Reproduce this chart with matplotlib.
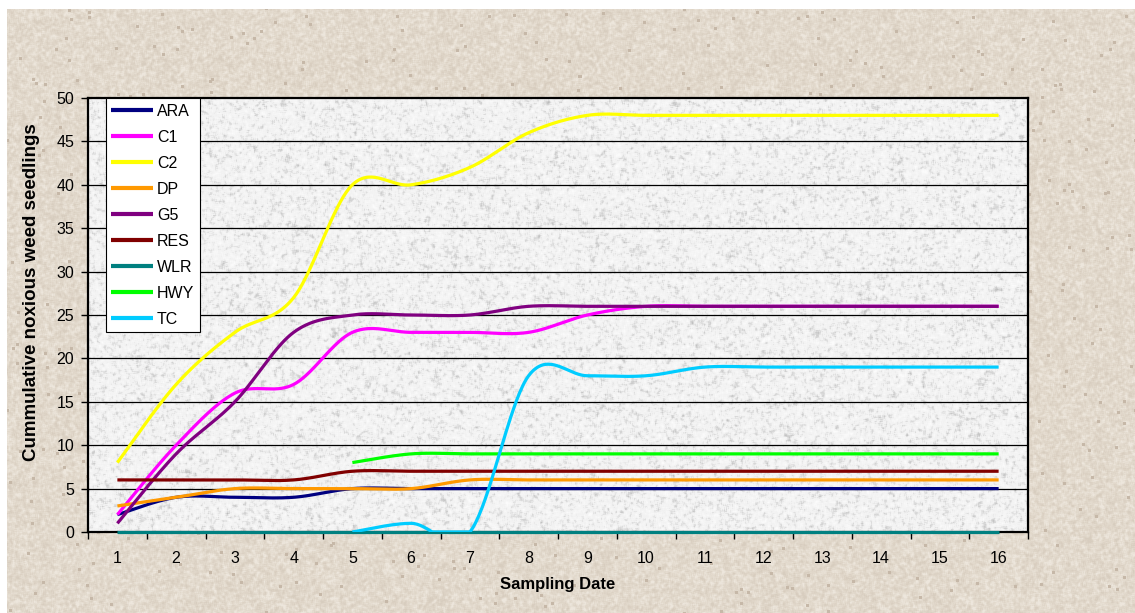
import numpy as np
import matplotlib
matplotlib.use("Agg")
import matplotlib.pyplot as plt

plt.rcParams['font.family'] = ['Liberation Sans', 'DejaVu Sans']

dates = list(range(1, 17))
nan = np.nan
ARA = [2, 4, 4, 4, 5, 5, 5, 5, 5, 5, 5, 5, 5, 5, 5, 5]
C1 = [2, 10, 16, 17, 23, 23, 23, 23, 25, 26, 26, 26, 26, 26, 26, 26]
C2 = [8, 17, 23, 27, 40, 40, 42, 46, 48, 48, 48, 48, 48, 48, 48, 48]
DP = [3, 4, 5, 5, 5, 5, 6, 6, 6, 6, 6, 6, 6, 6, 6, 6]
G5 = [1, 9, 15, 23, 25, 25, 25, 26, 26, 26, 26, 26, 26, 26, 26, 26]
RES = [6, 6, 6, 6, 7, 7, 7, 7, 7, 7, 7, 7, 7, 7, 7, 7]
WLR = [0] * 16
HWY = [nan, nan, nan, nan, 8, 9, 9, 9, 9, 9, 9, 9, 9, 9, 9, 9]
TC = [nan, nan, nan, nan, 0, 1, 0, 18, 18, 18, 19, 19, 19, 19, 19, 19]

series = [
    ("ARA", ARA, "#000080"),
    ("C1", C1, "#FF00FF"),
    ("C2", C2, "#FFFF00"),
    ("DP", DP, "#FF9900"),
    ("G5", G5, "#800080"),
    ("RES", RES, "#800000"),
    ("WLR", WLR, "#008080"),
    ("HWY", HWY, "#00FF00"),
    ("TC", TC, "#00CCFF"),
]


def smooth(xs, ys, n=40):
    """Catmull-Rom style Bezier smoothing through every point."""
    pts = [(x, y) for x, y in zip(xs, ys) if not np.isnan(y)]
    P = np.array(pts, dtype=float)
    out_x, out_y = [], []
    t = np.linspace(0, 1, n)
    for i in range(len(P) - 1):
        p0 = P[i - 1] if i > 0 else P[i]
        p1 = P[i]
        p2 = P[i + 1]
        p3 = P[i + 2] if i + 2 < len(P) else P[i + 1]
        c1 = p1 + (p2 - p0) / 6.0
        c2 = p2 - (p3 - p1) / 6.0
        b = ((1 - t) ** 3)[:, None] * p1 + (3 * (1 - t) ** 2 * t)[:, None] * c1 \
            + (3 * (1 - t) * t ** 2)[:, None] * c2 + (t ** 3)[:, None] * p2
        if i > 0:
            b = b[1:]
        out_x.extend(b[:, 0])
        out_y.extend(b[:, 1])
    return np.array(out_x), np.array(out_y)


def blur(a, r=1):
    acc = np.zeros_like(a)
    cnt = 0
    for dy in range(-r, r + 1):
        for dx in range(-r, r + 1):
            acc += np.roll(np.roll(a, dy, 0), dx, 1)
            cnt += 1
    return acc / cnt


def norm(a):
    return (a - a.mean()) / a.std()


rng = np.random.default_rng(7)

W, H = 1135, 613
fig = plt.figure(figsize=(W / 100, H / 100), dpi=100)
fig.patch.set_facecolor("white")

# Paper-like backdrop of the chart area
bw, bh = W - 7, H - 9
bg = fig.add_axes([7 / W, 0, bw / W, bh / H])
bg.set_axis_off()
v = norm(blur(rng.random((bh, bw)), 1)) * 0.8 + norm(blur(rng.random((bh, bw)), 2)) * 0.3
base = np.array([226, 217, 204]) / 255.0
light = np.array([240, 234, 225]) / 255.0
dark = np.array([198, 184, 168]) / 255.0
img = base[None, None, :] + np.clip(v, 0, 2)[..., None] * (light - base) * 0.4 \
    - np.clip(-v, 0, 2)[..., None] * (base - dark) * 0.18
spots = blur((rng.random((bh, bw)) > 0.999).astype(float), 1) > 0.05
img = np.where(spots[..., None], dark[None, None, :], img)
bg.imshow(np.clip(img, 0, 1), aspect="auto", interpolation="nearest")

ax = fig.add_axes([88 / W, 1 - 532 / H, 940 / W, 434 / H])

# Granite texture in the plot area
gv = norm(blur(rng.random((434, 940)), 1)) * 0.8 + norm(blur(rng.random((434, 940)), 2)) * 0.5
gray = 0.95 - np.clip(gv - 0.3, 0, None) * 0.06 + np.clip(-gv, 0, None) * 0.012
gray = np.clip(gray, 0.74, 0.985)
ax.imshow(np.dstack([gray, gray, gray]), extent=[0.5, 16.5, 0, 50],
          aspect="auto", interpolation="nearest", zorder=0)

for yv in range(5, 50, 5):
    ax.axhline(yv, color="black", lw=0.9, zorder=1)

for name, vals, col in series:
    sx, sy = smooth(dates, vals)
    ax.plot(sx, np.maximum(sy, 0), color=col, lw=2.3, label=name, zorder=3,
            solid_capstyle="butt", clip_on=(name != "WLR"))

ax.set_xlim(0.5, 16.5)
ax.set_ylim(0, 50)
ax.set_yticks(range(0, 51, 5))
ax.set_xticks(np.arange(0.5, 16.6, 1))
ax.set_xticklabels([])
ax.set_xticks(dates, minor=True)
ax.set_xticklabels([str(d) for d in dates], minor=True)
ax.tick_params(axis="x", which="major", direction="out", length=5, width=1, color="black")
ax.tick_params(axis="x", which="minor", length=0, pad=14, labelsize=11.5)
ax.tick_params(axis="y", direction="out", length=5, width=1, pad=5, labelsize=11.5)
for s in ax.spines.values():
    s.set_linewidth(1.6)
    s.set_color("black")

ax.set_xlabel("Sampling Date", fontsize=12, fontweight="bold", va="center")
ax.xaxis.set_label_coords(0.5, (532 - 585) / 434)
ax.set_ylabel("Cummulative noxious weed seedlings", fontsize=13.5, fontweight="bold",
              va="center")
ax.yaxis.set_label_coords((32 - 88) / 940, (532 - 292) / 434)

leg = ax.legend(loc="upper left", bbox_to_anchor=(0.019, 1.0), borderaxespad=0,
                fontsize=11.5, frameon=True, fancybox=False, handlelength=2.6,
                handletextpad=0.25, labelspacing=0.69, borderpad=0.35)
leg.get_frame().set_edgecolor("black")
leg.get_frame().set_linewidth(0.8)
leg.get_frame().set_facecolor("white")
leg.get_frame().set_alpha(1)
for line in leg.get_lines():
    line.set_linewidth(3)

fig.savefig("out.png", dpi=100)
